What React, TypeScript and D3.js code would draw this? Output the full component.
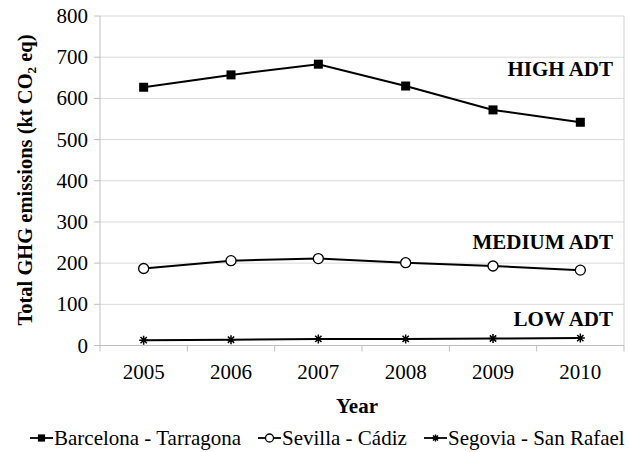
import React, { useRef, useEffect } from "react";
import * as d3 from "d3";

const years = ["2005", "2006", "2007", "2008", "2009", "2010"];
const barcelona = [627, 657, 683, 630, 572, 542];
const sevilla = [187, 206, 211, 201, 193, 183];
const segovia = [13, 14, 16, 16, 17, 18];
const yTicks = [0, 100, 200, 300, 400, 500, 600, 700, 800];
const seriesNames = ["Barcelona - Tarragona", "Sevilla - Cádiz", "Segovia - San Rafael"];
const levelLabels = ["HIGH ADT", "MEDIUM ADT", "LOW ADT"];
const levelValues = [655, 235, 48];

const W = 629;
const H = 452;
const FONT = "'Liberation Serif', 'Times New Roman', serif";

const drawMarker = (g: any, kind: string, x: number, y: number, k = 1) => {
  if (kind === "square") {
    const s = 4.5 * k;
    g.append("rect").attr("x", x - s).attr("y", y - s).attr("width", 2 * s).attr("height", 2 * s).attr("fill", "#000");
  } else if (kind === "circle") {
    g.append("circle").attr("cx", x).attr("cy", y).attr("r", 5 * k).attr("fill", "#fff").attr("stroke", "#000").attr("stroke-width", 1.3);
  } else {
    const s = 4.5 * k;
    const p = `M${x - s},${y}L${x + s},${y}M${x - s * 0.7},${y - s * 0.7}L${x + s * 0.7},${y + s * 0.7}M${x - s * 0.7},${y + s * 0.7}L${x + s * 0.7},${y - s * 0.7}M${x},${y - s}L${x},${y + s}`;
    g.append("path").attr("d", p).attr("stroke", "#000").attr("stroke-width", 1.5).attr("fill", "none");
  }
};

const Chart = () => {
  const svgRef = useRef<SVGSVGElement>(null);

  useEffect(() => {
    const svg = d3.select(svgRef.current);
    svg.selectAll("*").remove();

    const left = 100, right = 624, top = 16, bottom = 345.5;

    const x = d3.scaleBand().domain(years).range([left, right]);
    const y = d3.scaleLinear().domain([0, 800]).range([bottom, top]);
    const cx = (d: string) => (x(d) as number) + x.bandwidth() / 2;

    // grid
    svg.append("g")
      .selectAll("line")
      .data(yTicks.slice(1))
      .enter()
      .append("line")
      .attr("x1", left).attr("x2", right)
      .attr("y1", (d) => y(d)).attr("y2", (d) => y(d))
      .attr("stroke", "#d9d9d9").attr("stroke-width", 1);

    // right border
    svg.append("line").attr("x1", right).attr("x2", right).attr("y1", top).attr("y2", bottom)
      .attr("stroke", "#d0d0d0");

    // axes
    svg.append("line").attr("x1", left).attr("x2", left).attr("y1", top).attr("y2", bottom).attr("stroke", "#bfbfbf");
    svg.append("line").attr("x1", left - 6).attr("x2", right).attr("y1", bottom).attr("y2", bottom).attr("stroke", "#bfbfbf");
    svg.append("g").selectAll("line").data(yTicks).enter().append("line")
      .attr("x1", left - 6).attr("x2", left).attr("y1", (d) => y(d)).attr("y2", (d) => y(d)).attr("stroke", "#bfbfbf");
    const bounds = years.map((d) => x(d) as number).concat([right]);
    svg.append("g").selectAll("line").data(bounds).enter().append("line")
      .attr("x1", (d) => d).attr("x2", (d) => d).attr("y1", bottom).attr("y2", bottom + 6).attr("stroke", "#bfbfbf");

    // tick labels
    svg.append("g").selectAll("text").data(yTicks).enter().append("text")
      .attr("x", left - 12).attr("y", (d) => y(d) + 7)
      .attr("text-anchor", "end").attr("font-family", FONT).attr("font-size", 21).attr("fill", "#000")
      .text((d) => d);
    svg.append("g").selectAll("text").data(years).enter().append("text")
      .attr("x", (d) => cx(d)).attr("y", 379)
      .attr("text-anchor", "middle").attr("font-family", FONT).attr("font-size", 21).attr("fill", "#000")
      .text((d) => d);

    // axis titles
    svg.append("text")
      .attr("transform", `translate(32,180) rotate(-90)`)
      .attr("text-anchor", "middle").attr("font-family", FONT).attr("font-size", 20.5).attr("font-weight", "bold")
      .call((t) => {
        t.append("tspan").text("Total GHG emissions (kt CO");
        t.append("tspan").attr("font-size", 13).attr("dy", 4).text("2");
        t.append("tspan").attr("dy", -4).text(" eq)");
      });
    svg.append("text").attr("x", 357).attr("y", 413).attr("text-anchor", "middle")
      .attr("font-family", FONT).attr("font-size", 21).attr("font-weight", "bold").text("Year");

    // series
    const series = [
      { values: barcelona, marker: "square" },
      { values: sevilla, marker: "circle" },
      { values: segovia, marker: "star" },
    ];
    const line = d3.line<number>().x((_, i) => cx(years[i])).y((d) => y(d));
    series.forEach((s) => {
      svg.append("path").datum(s.values).attr("d", line).attr("fill", "none").attr("stroke", "#000").attr("stroke-width", 2);
      const g = svg.append("g");
      s.values.forEach((v, i) => drawMarker(g, s.marker, cx(years[i]), y(v)));
    });

    // level labels
    svg.append("g").selectAll("text").data(levelLabels).enter().append("text")
      .attr("x", 613).attr("y", (_, i) => y(levelValues[i]))
      .attr("text-anchor", "end").attr("font-family", FONT).attr("font-size", 21).attr("font-weight", "bold")
      .text((d) => d);

    // legend
    const legendX = [30, 258, 424];
    const ly = 438;
    seriesNames.forEach((name, i) => {
      const g = svg.append("g");
      g.append("line").attr("x1", legendX[i]).attr("x2", legendX[i] + 23).attr("y1", ly).attr("y2", ly)
        .attr("stroke", "#000").attr("stroke-width", 1.8);
      drawMarker(g, series[i].marker, legendX[i] + 11.5, ly, 0.8);
      g.append("text").attr("x", legendX[i] + 24).attr("y", 445)
        .attr("font-family", FONT).attr("font-size", 21).attr("fill", "#000").text(name);
    });
  }, []);

  return <svg ref={svgRef} width={W} height={H} style={{ display: "block" }} />;
};

export default function App() {
  return (
    <div style={{ position: "absolute", left: 0, top: 0, width: W, height: H, background: "#fff" }}>
      <Chart />
    </div>
  );
}
